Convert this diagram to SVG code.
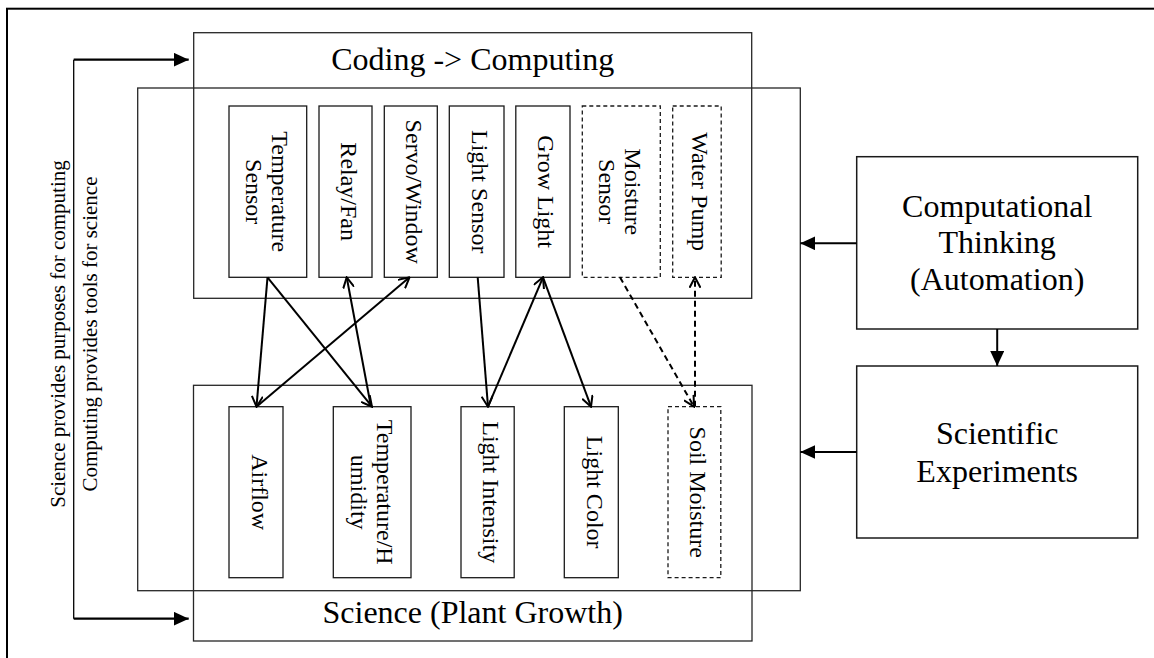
<svg xmlns="http://www.w3.org/2000/svg" width="1154" height="658" viewBox="0 0 1154 658">
<style>
.frame{fill:none;stroke:#000;stroke-width:2}
.cont{fill:none;stroke:#262626;stroke-width:1.3}
.box{fill:#fff;stroke:#1a1a1a;stroke-width:1.3}
.dbox{fill:#fff;stroke:#1a1a1a;stroke-width:1.3;stroke-dasharray:4 3}
.rbox{fill:#fff;stroke:#1a1a1a;stroke-width:1.5}
text{font-family:"Liberation Serif","Times New Roman",serif;fill:#000}
.t32{font-size:32px;text-anchor:middle}
.t24{font-size:24px;text-anchor:middle}
.t21{font-size:21px;text-anchor:middle}
.ln{fill:none;stroke:#000;stroke-width:2}
.dl{fill:none;stroke:#000;stroke-width:2;stroke-dasharray:6 4}
.thin{fill:none;stroke:#000;stroke-width:1.3}
.thick{fill:none;stroke:#000;stroke-width:2.2}
</style>
<defs>
<marker id="open" viewBox="0 0 12 12" refX="11" refY="6" markerWidth="12" markerHeight="12" markerUnits="userSpaceOnUse" orient="auto">
<path d="M0.5,0.5 L11,6 L0.5,11.5" fill="none" stroke="#000" stroke-width="2"/>
</marker>
<marker id="fill" viewBox="0 0 15 14" refX="15" refY="7" markerWidth="15" markerHeight="14" markerUnits="userSpaceOnUse" orient="auto">
<path d="M0,0 L15,7 L0,14 z" fill="#000"/>
</marker>
</defs>
<rect width="1154" height="658" fill="#fff"/>
<rect class="frame" x="7" y="8.7" width="1160" height="660"/>

<g id="big-box"><rect class="cont" x="137.7" y="88" width="662.6" height="502.7"/></g>
<g id="coding"><rect class="cont" x="193.7" y="32.7" width="558" height="265.6"/><text class="t32" x="472.7" y="70">Coding -&gt; Computing</text></g>
<g id="science"><rect class="cont" x="193.5" y="385.3" width="558.5" height="255.7"/><text class="t32" x="472.7" y="623.3">Science (Plant Growth)</text></g>

<g id="temp-sensor"><rect class="box" x="229" y="106" width="77.7" height="171.3"/><text class="t24" transform="translate(267.85,191.7) rotate(90)"><tspan x="0" y="-4">Temperature</tspan><tspan x="0" y="22">Sensor</tspan></text></g>
<g id="relay-fan"><rect class="box" x="319" y="106" width="53" height="171.3"/><text class="t24" transform="translate(345.5,191.7) rotate(90)" y="5">Relay/Fan</text></g>
<g id="servo-window"><rect class="box" x="384.3" y="106" width="53" height="171.3"/><text class="t24" transform="translate(410.8,191.7) rotate(90)" y="5">Servo/Window</text></g>
<g id="light-sensor"><rect class="box" x="449.3" y="106" width="54.7" height="171.3"/><text class="t24" transform="translate(476.65,191.7) rotate(90)" y="5">Light Sensor</text></g>
<g id="grow-light"><rect class="box" x="515.8" y="106" width="54.2" height="171.3"/><text class="t24" transform="translate(542.9,191.7) rotate(90)" y="5">Grow Light</text></g>
<g id="moisture-sensor"><rect class="dbox" x="582.3" y="106" width="78" height="171.3"/><text class="t24" transform="translate(621.3,191.7) rotate(90)"><tspan x="0" y="-4">Moisture</tspan><tspan x="0" y="22">Sensor</tspan></text></g>
<g id="water-pump"><rect class="dbox" x="672.7" y="106" width="48.5" height="171.3"/><text class="t24" transform="translate(697,191.7) rotate(90)" y="5">Water Pump</text></g>

<g id="airflow"><rect class="box" x="229" y="406.7" width="54" height="171"/><text class="t24" transform="translate(256,492.2) rotate(90)" y="4.5">Airflow</text></g>
<g id="temp-humidity"><rect class="box" x="333.3" y="406.7" width="77.7" height="171"/><text class="t24" transform="translate(372.2,492.2) rotate(90)"><tspan x="0" y="-5">Temperature/H</tspan><tspan x="0" y="21.5">umidity</tspan></text></g>
<g id="light-intensity"><rect class="box" x="461" y="406.7" width="53.2" height="171"/><text class="t24" transform="translate(487.6,492.2) rotate(90)" y="4.5">Light Intensity</text></g>
<g id="light-color"><rect class="box" x="564.3" y="406.7" width="54" height="171"/><text class="t24" transform="translate(591.3,492.2) rotate(90)" y="4.5">Light Color</text></g>
<g id="soil-moisture"><rect class="dbox" x="668" y="406.7" width="52.8" height="171"/><text class="t24" transform="translate(694.4,492.2) rotate(90)" y="4.5">Soil Moisture</text></g>

<g id="computational-thinking"><rect class="rbox" x="856.7" y="156.7" width="281" height="172.3"/><text class="t32" x="997.2" y="216.5">Computational</text><text class="t32" x="997.2" y="253">Thinking</text><text class="t32" x="997.2" y="290">(Automation)</text></g>
<g id="scientific-experiments"><rect class="rbox" x="856.7" y="366" width="281" height="172"/><text class="t32" x="997.2" y="444.3">Scientific</text><text class="t32" x="997.2" y="481.7">Experiments</text></g>

<g id="side-labels">
<text class="t21" transform="translate(64.5,334) rotate(-90)">Science provides purposes for computing</text>
<text class="t21" transform="translate(96.7,334) rotate(-90)">Computing provides tools for science</text>
</g>

<g id="connectors">
<path class="thin" d="M73.7,59.7 V618.7"/>
<path class="thick" d="M73.7,59.7 H188.7" marker-end="url(#fill)"/>
<path class="thick" d="M73.7,618.7 H188.7" marker-end="url(#fill)"/>
<path class="ln" d="M856.7,243.3 H800.3" marker-end="url(#fill)"/>
<path class="ln" d="M856.7,452 H800.3" marker-end="url(#fill)"/>
<path class="ln" d="M997.2,329 V366" marker-end="url(#fill)"/>
<path class="ln" d="M267.5,277.3 L256.5,406.7" marker-end="url(#open)"/>
<path class="ln" d="M267.5,277.3 L372,406.7" marker-end="url(#open)"/>
<path class="ln" d="M371,406.7 L346.7,277.3" marker-end="url(#open)"/>
<path class="ln" d="M256.5,406.7 L409.5,277.3" marker-end="url(#open)"/>
<path class="ln" d="M477.7,277.3 L488,406.7" marker-end="url(#open)"/>
<path class="ln" d="M488,406.7 L543,277.3" marker-end="url(#open)"/>
<path class="ln" d="M543,277.3 L591,406.7" marker-end="url(#open)"/>
<path class="dl" d="M620,277.3 L694,406.7" marker-end="url(#open)"/>
<path class="dl" d="M695,406.7 L695,277.3" marker-end="url(#open)"/>
</g>
</svg>
